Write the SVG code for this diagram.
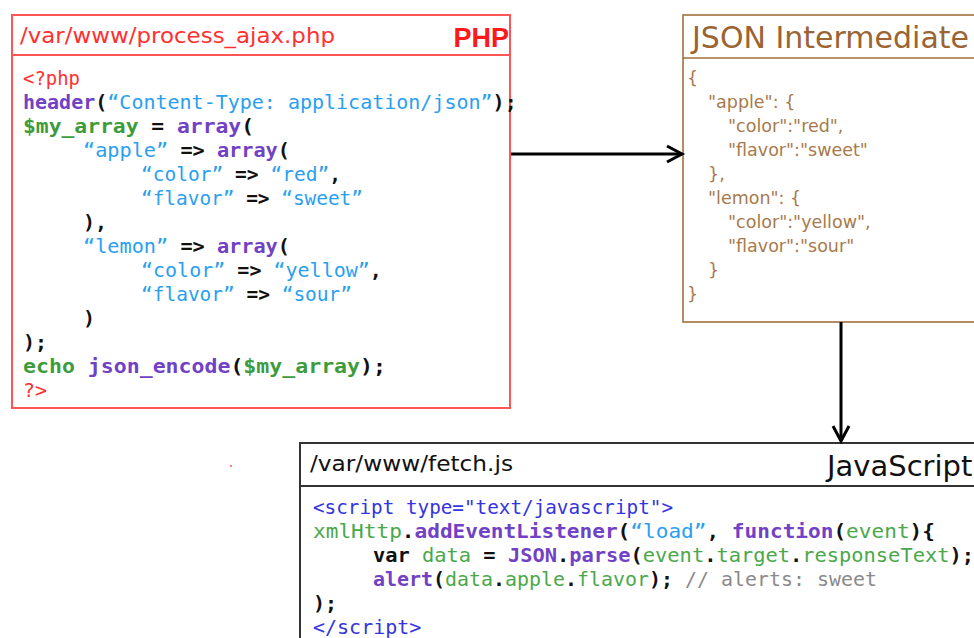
<svg xmlns="http://www.w3.org/2000/svg" width="974" height="638" viewBox="0 0 974 638">
<style>
.mono{font-family:"DejaVu Sans Mono","Liberation Mono",monospace;font-size:20px}
.sans{font-family:"DejaVu Sans","Liberation Sans",sans-serif}
.k{fill:#111;font-weight:bold}
.pu{fill:#7141c6;font-weight:bold}
.bl{fill:#2a9ff0}
.gr{fill:#3c9c3c;font-weight:bold}
.gj{fill:#4aa84a}
.rd{fill:#ff3030}
.db{fill:#3434e0}
.cm{fill:#8a8a8a}
.js{fill:#a77a4c;font-size:17.5px}
.conn{stroke:#000;stroke-width:3;fill:none}
</style>
<rect width="974" height="638" fill="#fff"/>
<g id="php">
<rect x="12" y="15" width="498" height="393" fill="#fff" stroke="#ff5555" stroke-width="2"/>
<line x1="12" y1="55" x2="510" y2="55" stroke="#ff5555" stroke-width="2"/>
<text class="sans" x="20" y="43" font-size="22" fill="#ff3030" textLength="315" lengthAdjust="spacingAndGlyphs">/var/www/process_ajax.php</text>
<text x="509" y="47" font-family="Liberation Sans, Arial, sans-serif" font-size="27" font-weight="bold" fill="#ff1a1a" text-anchor="end">PHP</text>
<g class="mono">
<text x="23" y="85" class="rd" textLength="57" lengthAdjust="spacingAndGlyphs">&lt;?php</text>
<text x="23" y="109"><tspan class="pu">header</tspan><tspan class="k">(</tspan><tspan class="bl">“Content-Type: application/json”</tspan><tspan class="k">);</tspan></text>
<text x="23" y="133" textLength="231" lengthAdjust="spacingAndGlyphs"><tspan class="gr">$my_array</tspan><tspan class="k"> = </tspan><tspan class="pu">array</tspan><tspan class="k">(</tspan></text>
<text x="83" y="157" textLength="207" lengthAdjust="spacingAndGlyphs"><tspan class="bl">“apple”</tspan><tspan class="k"> =&gt; </tspan><tspan class="pu">array</tspan><tspan class="k">(</tspan></text>
<text x="141" y="181" textLength="200" lengthAdjust="spacingAndGlyphs"><tspan class="bl">“color”</tspan><tspan class="k"> =&gt; </tspan><tspan class="bl">“red”</tspan><tspan class="k">,</tspan></text>
<text x="141" y="205" textLength="222" lengthAdjust="spacingAndGlyphs"><tspan class="bl">“flavor”</tspan><tspan class="k"> =&gt; </tspan><tspan class="bl">“sweet”</tspan></text>
<text x="83" y="229" class="k">),</text>
<text x="83" y="253" textLength="207" lengthAdjust="spacingAndGlyphs"><tspan class="bl">“lemon”</tspan><tspan class="k"> =&gt; </tspan><tspan class="pu">array</tspan><tspan class="k">(</tspan></text>
<text x="141" y="277"><tspan class="bl">“color”</tspan><tspan class="k"> =&gt; </tspan><tspan class="bl">“yellow”</tspan><tspan class="k">,</tspan></text>
<text x="141" y="301" textLength="211" lengthAdjust="spacingAndGlyphs"><tspan class="bl">“flavor”</tspan><tspan class="k"> =&gt; </tspan><tspan class="bl">“sour”</tspan></text>
<text x="83" y="325" class="k">)</text>
<text x="23" y="349" class="k">);</text>
<text x="23" y="373" textLength="363" lengthAdjust="spacingAndGlyphs"><tspan class="gr">echo </tspan><tspan class="pu">json_encode</tspan><tspan class="k">(</tspan><tspan class="gr">$my_array</tspan><tspan class="k">);</tspan></text>
<text x="23" y="397" class="rd">?&gt;</text>
</g>
</g>
<g id="json">
<rect x="683" y="15" width="320" height="307" fill="#fff" stroke="#a0703c" stroke-width="1.6"/>
<line x1="683" y1="58" x2="1000" y2="58" stroke="#a0703c" stroke-width="1.6"/>
<text class="sans" x="692" y="48" font-size="30" fill="#9a6433">JSON Intermediate</text>
<g class="sans js">
<text x="687" y="84">{</text>
<text x="708" y="108">"apple": {</text>
<text x="728" y="132">"color":"red",</text>
<text x="728" y="156">"flavor":"sweet"</text>
<text x="708" y="180">},</text>
<text x="708" y="204">"lemon": {</text>
<text x="728" y="228">"color":"yellow",</text>
<text x="728" y="252">"flavor":"sour"</text>
<text x="708" y="276">}</text>
<text x="687" y="300">}</text>
</g>
</g>
<g id="javascript">
<rect x="300" y="443" width="700" height="220" fill="#fff" stroke="#333" stroke-width="2"/>
<line x1="300" y1="486" x2="1000" y2="486" stroke="#333" stroke-width="2"/>
<text class="sans" x="310" y="471" font-size="22" fill="#111" textLength="203" lengthAdjust="spacingAndGlyphs">/var/www/fetch.js</text>
<text class="sans" x="827" y="476" font-size="29" fill="#111">JavaScript</text>
<g class="mono">
<text x="313" y="514" class="db" textLength="360" lengthAdjust="spacingAndGlyphs">&lt;script type="text/javascript"&gt;</text>
<text x="313" y="538" textLength="622" lengthAdjust="spacingAndGlyphs"><tspan class="gj">xmlHttp</tspan><tspan class="k">.</tspan><tspan class="pu">addEventListener</tspan><tspan class="k">(</tspan><tspan class="bl">“load”</tspan><tspan class="k">, </tspan><tspan class="pu">function</tspan><tspan class="k">(</tspan><tspan class="gj">event</tspan><tspan class="k">){</tspan></text>
<text x="373" y="562" textLength="601" lengthAdjust="spacingAndGlyphs"><tspan class="k">var </tspan><tspan class="gj">data</tspan><tspan class="k"> = </tspan><tspan class="pu">JSON</tspan><tspan class="k">.</tspan><tspan class="pu">parse</tspan><tspan class="k">(</tspan><tspan class="gj">event</tspan><tspan class="k">.</tspan><tspan class="gj">target</tspan><tspan class="k">.</tspan><tspan class="gj">responseText</tspan><tspan class="k">);</tspan></text>
<text x="373" y="586" textLength="504" lengthAdjust="spacingAndGlyphs"><tspan class="pu">alert</tspan><tspan class="k">(</tspan><tspan class="gj">data</tspan><tspan class="k">.</tspan><tspan class="gj">apple</tspan><tspan class="k">.</tspan><tspan class="gj">flavor</tspan><tspan class="k">); </tspan><tspan class="cm">// alerts: sweet</tspan></text>
<text x="313" y="610" class="k">);</text>
<text x="313" y="634" class="db">&lt;/script&gt;</text>
</g>
</g>
<g id="connectors">
<path class="conn" d="M511 154 H682"/>
<path class="conn" d="M667 146 L682 154 L667 162"/>
<path class="conn" d="M841 322 V441"/>
<path class="conn" d="M833 426 L841 441 L849 426"/>
</g>
<circle cx="231" cy="466" r="0.9" fill="#ff4040"/>
</svg>
